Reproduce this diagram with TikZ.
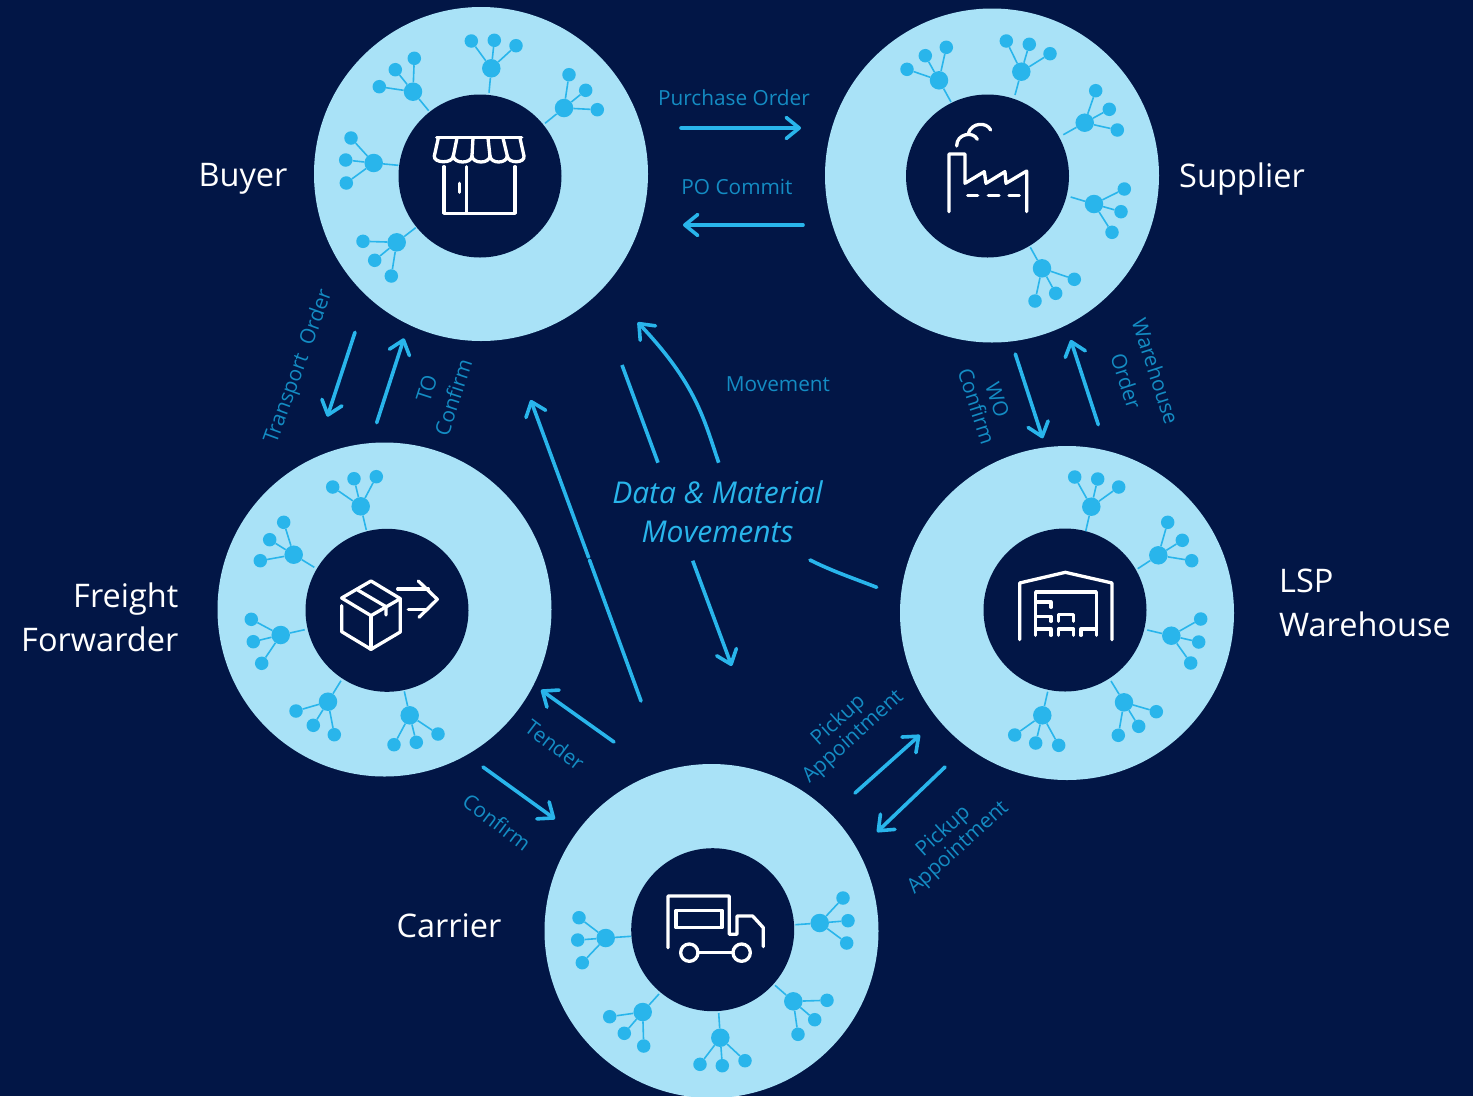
\documentclass[tikz,border=0pt]{standalone}
\usepackage{fontspec}
\setmainfont{Open Sans}
\usetikzlibrary{arrows.meta}
\definecolor{bgc}{RGB}{2,22,70}
\definecolor{ringc}{RGB}{169,226,247}
\definecolor{acc}{RGB}{41,181,235}
\definecolor{labc}{RGB}{20,140,195}
\tikzset{
  ring/.style={circle,fill=ringc,inner sep=0,minimum size=334pt},
  hole/.style={circle,fill=bgc,inner sep=0,minimum size=163pt},
  hubn/.style={circle,fill=acc,inner sep=0,minimum size=18.5pt},
  leaf/.style={circle,fill=acc,inner sep=0,minimum size=13.5pt},
  stemline/.style={draw=acc,line width=1.6pt},
  flow/.style={draw=acc,line width=3.6pt},
  flowtip/.style={flow,line cap=round,-{Straight Barb[length=13pt,width=21pt,line width=3.6pt,round]}},
  icon/.style={draw=white,line width=3.3pt,line cap=round,line join=round},
  party/.style={text=white,font=\fontsize{32.5}{44}\selectfont,inner sep=0},
  lab/.style={text=labc,font=\fontsize{20.8}{25}\selectfont,inner sep=0,align=center},
  bigital/.style={text=acc,font=\fontsize{30}{39}\selectfont\itshape,inner sep=0,align=center},
}
\newcommand{\cluster}[6]{%
  \coordinate (#1s) at (#2);
  \node[hubn] (#1h) at (#3) {};
  \node[leaf] (#1a) at (#4) {};
  \node[leaf] (#1b) at (#5) {};
  \node[leaf] (#1c) at (#6) {};
  \draw[stemline] (#1s) -- (#1h);
  \draw[stemline] (#1h) -- (#1a);
  \draw[stemline] (#1h) -- (#1b);
  \draw[stemline] (#1h) -- (#1c);
}
\begin{document}
\begin{tikzpicture}[x=1pt,y=-1pt]
\useasboundingbox (0,0) rectangle (1473,1096);
\clip (0,0) rectangle (1473,1096);
\fill[bgc] (0,0) rectangle (1473,1096);

% rings
\node[ring] (buyer) at (481,174) {};
\node[hole] (buyerin) at (480,176) {};
\node[ring] (supplier) at (992,175.5) {};
\node[hole] (supplierin) at (987.5,176) {};
\node[ring] (freight) at (384.5,609.5) {};
\node[hole] (freightin) at (387,610.3) {};
\node[ring] (lsp) at (1067,613) {};
\node[hole] (lspin) at (1065,610) {};
\node[ring] (carrier) at (711.5,931) {};
\node[hole] (carrierin) at (712.7,929.7) {};

% clusters: Buyer
\cluster{ba}{489,92.7}{491.3,68.3}{471.3,41}{494.3,40.3}{516,45.7}
\cluster{bb}{428.7,110.7}{413,91.7}{379.3,86.7}{395.3,69.7}{414.3,58.3}
\cluster{bc}{545,123.3}{564,108}{569,74.7}{585.7,90.3}{597.3,109.7}
\cluster{bd}{398.3,165.3}{373.7,163}{351,138}{345.7,160}{346.3,183}
\cluster{be}{415.7,227.7}{396.7,242.3}{363,241.3}{374.7,260.3}{391.3,276}
% Supplier
\cluster{sa}{951,102}{939,80.3}{907,69.3}{925.3,55.7}{946.3,47.3}
\cluster{sb}{1015,95}{1021.3,71.7}{1006.3,41}{1029.3,44.3}{1050,53.7}
\cluster{sc}{1063.3,134.7}{1084.7,122.7}{1095.7,90.7}{1109.3,109.3}{1117.3,130}
\cluster{sd}{1070.7,197}{1094,204}{1124.3,189}{1121,211.7}{1112,232.3}
\cluster{se}{1030.3,247.3}{1042,268.3}{1074.3,279.3}{1055.7,293.3}{1035,301}
% Freight
\cluster{fa}{366.3,530}{360.7,506.3}{332.7,487}{354,478.7}{376.3,476.7}
\cluster{fb}{314.3,567.3}{293.7,554.7}{260.3,560.7}{269.7,539.7}{283.7,522.3}
\cluster{fc}{304.7,629.7}{280.7,635}{251.3,619.3}{253.3,641.7}{261.7,663.3}
\cluster{fd}{341,680.7}{328,701.7}{296,711}{313.3,725.3}{334.3,734.7}
\cluster{fe}{404.3,691.3}{409.7,715.3}{438,734}{416.3,742.3}{394,744.7}
% LSP
\cluster{la}{1085.7,531.3}{1091.3,506.7}{1074.7,477}{1097.7,479}{1118.7,487}
\cluster{lb}{1137.7,568.7}{1158.3,555.3}{1167.7,522.3}{1182.3,540.3}{1191.7,560.7}
\cluster{lc}{1147.3,630}{1171.3,635.7}{1200.7,619}{1198.7,642}{1190.7,663}
\cluster{ld}{1111,681}{1124,702.3}{1156.3,711.7}{1138.7,726.3}{1118.3,735.3}
\cluster{le}{1047.7,691.7}{1042.3,715.3}{1014.7,735}{1035.7,743}{1058.7,745.3}
% Carrier
\cluster{ca}{795.3,924.7}{819.7,923}{843,898}{848,920.7}{846.7,943}
\cluster{cb}{775,985.3}{793.3,1001.3}{827,1000.3}{814.7,1019.7}{798,1034.3}
\cluster{cc}{718.7,1013}{720.3,1037.7}{745,1060.7}{722.3,1065.7}{700,1064.3}
\cluster{cd}{659,994}{642.7,1012}{609.7,1016.7}{624.3,1033.3}{643.7,1046}
\cluster{ce}{631,936.3}{605.7,938}{579,917.7}{577.7,940}{582.3,962.7}

% icon: shop
\begin{scope}[shift={(310,0)},x=0.3333pt,y=-0.3333pt]
\draw[icon] (380,412) -- (635,412);
\draw[icon] (385,414) -- (373,468) .. controls (370,490) and (428,492) .. (430,468)
  .. controls (432,492) and (484,492) .. (486,468)
  .. controls (488,492) and (538,492) .. (540,468)
  .. controls (542,492) and (590,492) .. (592,468)
  .. controls (594,492) and (646,490) .. (642,468) -- (630,414);
\draw[icon] (430,468) -- (441,414);
\draw[icon] (486,468) -- (489,414);
\draw[icon] (540,468) -- (534,414);
\draw[icon] (592,468) -- (579,414);
\draw[icon] (402,500) -- (402,640) -- (615,640) -- (615,500);
\draw[icon] (470,500) -- (470,640);
\draw[icon] (448,550) -- (448,577);
\end{scope}

% icon: factory
\begin{scope}[shift={(825,5)},x=0.3333pt,y=-0.3333pt]
\draw[icon] (372,620) -- (372,447) -- (420,447) -- (420,535) -- (478,500) -- (483,535) -- (540,500) -- (543,535) -- (605,498) -- (605,620);
\draw[icon] (428,572) -- (458,572);
\draw[icon] (490,572) -- (522,572);
\draw[icon] (552,572) -- (583,572);
\draw[icon] (395,423) .. controls (395,385) and (445,378) .. (457,403);
\draw[icon] (430,385) .. controls (440,352) and (485,350) .. (497,375);
\end{scope}

% icon: box
\begin{scope}[shift={(215,440)},x=0.3333pt,y=-0.3333pt]
\draw[icon] (468,423) -- (556,476) -- (468,527) -- (380,474) -- cycle;
\draw[icon] (380,497) -- (380,575) -- (468,628) -- (556,576) -- (556,476);
\draw[icon] (468,527) -- (468,628);
\draw[icon] (428,450) -- (513,500) -- (513,525);
\draw[icon] (548,447) -- (640,447);
\draw[icon] (610,423) -- (667,478) -- (612,532);
\draw[icon] (580,508) -- (638,508);
\end{scope}

% icon: warehouse
\begin{scope}[shift={(897,443)},x=0.3333pt,y=-0.3333pt]
\draw[icon] (368,590) -- (368,420) -- (505,388) -- (645,420) -- (645,590);
\draw[icon] (416,577) -- (416,447) -- (598,447) -- (598,577);
\draw[icon] (416,477) -- (462,477) -- (462,493);
\draw[icon] (416,520) -- (462,520) -- (462,535);
\draw[icon] (484,535) -- (484,515) -- (530,515) -- (530,535);
\draw[icon] (416,558) -- (462,558) -- (462,577);
\draw[icon] (484,577) -- (484,558) -- (530,558) -- (530,577);
\draw[icon] (552,577) -- (552,558) -- (598,558);
\end{scope}

% icon: truck
\begin{scope}[shift={(541,756)},x=0.3333pt,y=-0.3333pt]
\draw[icon] (381,575) -- (381,420) -- (565,420) -- (565,535) -- (588,535) -- (588,480) -- (635,480) -- (667,515) -- (667,572);
\draw[icon] (405,463) rectangle (543,515);
\draw[icon] (445,590) circle [radius=26];
\draw[icon] (602,590) circle [radius=26];
\draw[icon] (472,590) -- (575,590);
\end{scope}

% connector end points
\coordinate (poS) at (681,128); \coordinate (poE) at (801,128);
\coordinate (pcS) at (803,225); \coordinate (pcE) at (683,225);
\coordinate (toS) at (355,332.3); \coordinate (toE) at (327.3,416.7);
\coordinate (tcS) at (376.7,422.7); \coordinate (tcE) at (404,338.3);
\coordinate (wcS) at (1015.3,354); \coordinate (wcE) at (1042.7,438.3);
\coordinate (woS) at (1098.3,424.7); \coordinate (woE) at (1070.7,340);
\coordinate (mlS) at (641,701); \coordinate (mlM) at (589.5,560); \coordinate (mlN) at (588.8,558); \coordinate (mlE) at (530.7,400);
\coordinate (msS) at (622,365); \coordinate (msE) at (658,462.7);
\coordinate (mcS) at (718.7,462.7); \coordinate (mcE) at (637.7,322.3);
\coordinate (mdS) at (692.7,560.7); \coordinate (mdE) at (731.7,666);
\coordinate (mrS) at (810,560); \coordinate (mrE) at (876.7,587.3);
\coordinate (teS) at (614,742); \coordinate (teE) at (541,690);
\coordinate (coS) at (483,767); \coordinate (coE) at (555,819);
\coordinate (puS) at (855,793); \coordinate (puE) at (920,735);
\coordinate (pdS) at (945,767); \coordinate (pdE) at (877,832);

\draw[flowtip] (poS) -- (poE);
\draw[flowtip] (pcS) -- (pcE);
\draw[flowtip] (toS) -- (toE);
\draw[flowtip] (tcS) -- (tcE);
\draw[flowtip] (wcS) -- (wcE);
\draw[flowtip] (woS) -- (woE);
\draw[flowtip] (teS) -- (teE);
\draw[flowtip] (coS) -- (coE);
\draw[flowtip] (puS) -- (puE);
\draw[flowtip] (pdS) -- (pdE);
\draw[flow,line cap=round] (mlS) -- (mlM);
\draw[flowtip,line cap=butt] (mlN) -- (mlE);
\draw[flow,line cap=butt] (msS) -- (msE);
\draw[flowtip,line cap=butt] (mcS) .. controls (704,420) and (697,385) .. (mcE);
\draw[flowtip,line cap=butt] (mdS) -- (mdE);
\draw[flow,line cap=round] (mrS) .. controls (832,571) and (850,577) .. (mrE);

% party labels
\node[party,anchor=base] (lbuyer) at (243,186) {Buyer};
\node[party,anchor=base] (lsupplier) at (1242,187) {Supplier};
\node[party,align=right,anchor=east] (lfreight) at (178.5,617) {Freight\\Forwarder};
\node[party,align=left,anchor=west] (llsp) at (1279,603) {LSP\\Warehouse};
\node[party,anchor=base] (lcarrier) at (449,937) {Carrier};

% flow labels
\node[lab] (lpo) at (734,98) {Purchase Order};
\node[lab] (lpc) at (737,187) {PO Commit};
\node[lab] (lmo) at (778,384) {Movement};
\node[lab,rotate=70] (lto) at (299,367) {Transport\ \ Order};
\node[lab,rotate=72,font=\fontsize{20.8}{28}\selectfont] (ltc) at (440,393) {TO\\Confirm};
\node[lab,rotate=-72,font=\fontsize{20.8}{22}\selectfont] (lwc) at (987,403) {WO\\Confirm};
\node[lab,rotate=-72,font=\fontsize{20.8}{31}\selectfont] (lwo) at (1141,376) {Warehouse\\Order};
\node[lab,rotate=-37] (lte) at (555,745) {Tender};
\node[lab,rotate=-37] (lco) at (497,822) {Confirm};
\node[lab,rotate=42,font=\fontsize{20.8}{22}\selectfont] (lpu) at (846,729) {Pickup\\Appointment};
\node[lab,rotate=42,font=\fontsize{20.8}{22}\selectfont] (lpd) at (951,840) {Pickup\\Appointment};
\node[bigital] (ldata) at (717.5,512) {Data \& Material\\Movements};
\end{tikzpicture}
\end{document}
